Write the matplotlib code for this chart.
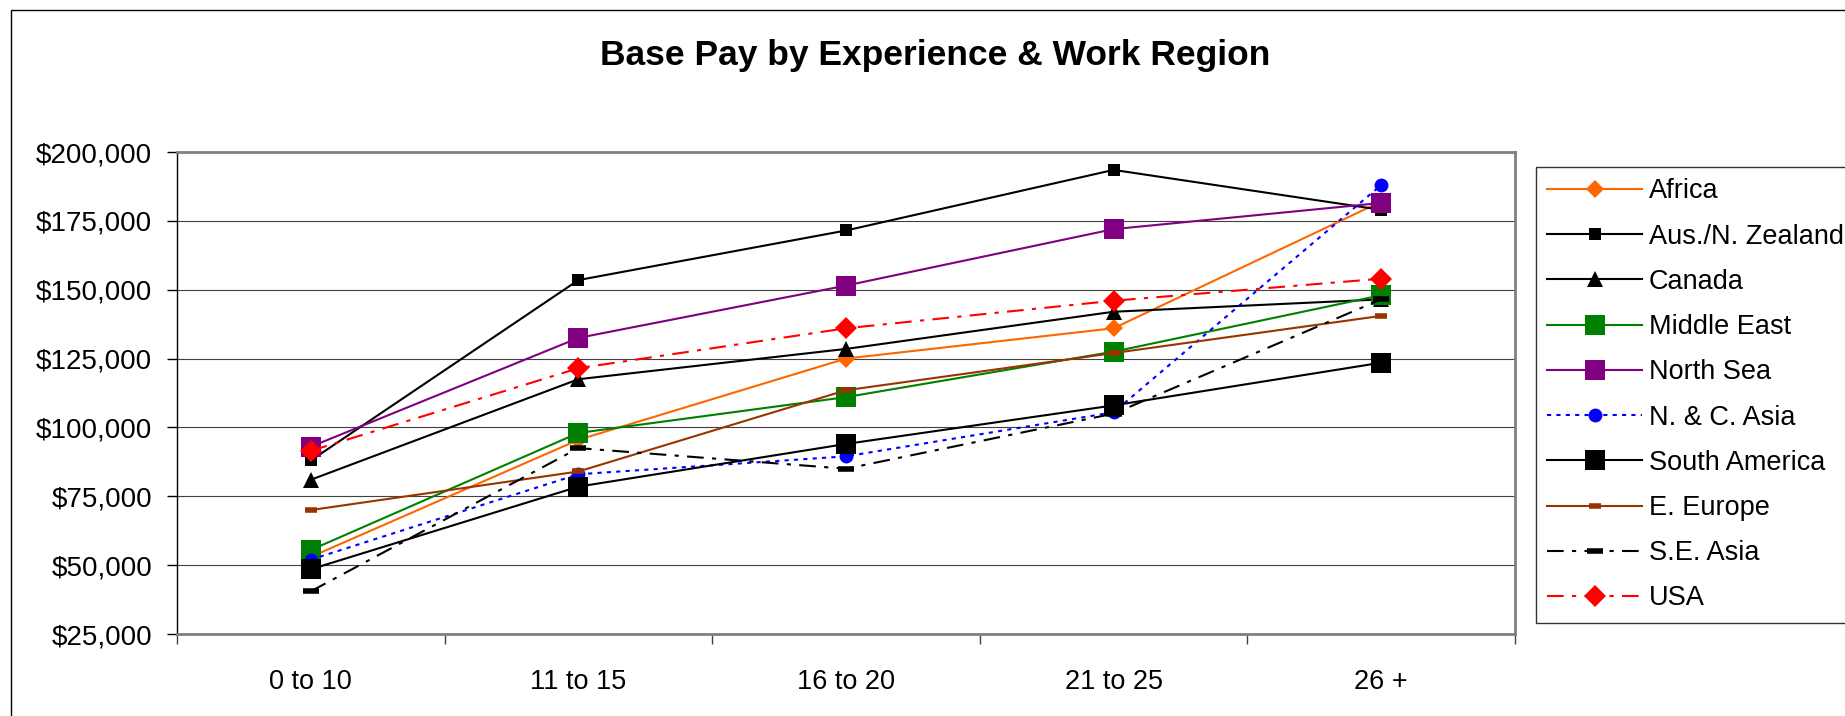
import matplotlib
matplotlib.use('Agg')
import matplotlib.pyplot as plt
from matplotlib.patches import Rectangle
from matplotlib.ticker import FuncFormatter, FixedLocator

plt.rcParams['font.family'] = ['Liberation Sans', 'DejaVu Sans']

# dados
categorias = ['0 to 10', '11 to 15', '16 to 20', '21 to 25', '26 +']
regioes = ['Africa', 'Aus./N. Zealand', 'Canada', 'Middle East', 'North Sea',
           'N. & C. Asia', 'South America', 'E. Europe', 'S.E. Asia', 'USA']

africa = [53000, 95500, 125000, 136000, 182000]
aus_nz = [88000, 153500, 171500, 193500, 179000]
canada = [81000, 117500, 128500, 142000, 146500]
middle_east = [55500, 98000, 111000, 127500, 148000]
north_sea = [93000, 132500, 151500, 172000, 181500]
nc_asia = [52000, 83000, 89500, 105500, 188000]
south_america = [48500, 78500, 94000, 108000, 123500]
e_europe = [70000, 84000, 113500, 127000, 140500]
se_asia = [40500, 92500, 85000, 105000, 146500]
usa = [91500, 121500, 136000, 146000, 154000]

series = [africa, aus_nz, canada, middle_east, north_sea,
          nc_asia, south_america, e_europe, se_asia, usa]

# estilos: cor, linha, marcador, tamanho
estilos = [
    ('#FF6600', '-', 'D', 9),
    ('black', '-', 's', 9),
    ('black', '-', '^', 11),
    ('#008000', '-', 's', 15),
    ('#800080', '-', 's', 15),
    ('#0000FF', (0, (2, 2.5)), 'o', 10),
    ('black', '-', 's', 15),
    ('#993300', '-', '_', 8),
    ('black', (0, (8, 4, 2, 4)), '_', 12),
    ('#FF0000', (0, (8, 4, 2, 4)), 'D', 11),
]

fig = plt.figure(figsize=(18.45, 7.16), dpi=100)
ax = fig.add_axes([177 / 1845, 82 / 716, 1338 / 1845, 482 / 716])

x = list(range(len(categorias)))
for i, (nome, valores, (cor, ls, mk, ms)) in enumerate(zip(regioes, series, estilos)):
    mew = 4 if mk == '_' else 0
    ax.plot(x, valores, color=cor, linestyle=ls, linewidth=1.5,
            marker=mk, markersize=ms, markerfacecolor=cor,
            markeredgecolor=cor, markeredgewidth=mew,
            label=nome, zorder=3 + i)

ax.set_xlim(-0.5, 4.5)
ax.set_ylim(25000, 200000)
ax.set_yticks(range(25000, 200001, 25000))
ax.yaxis.set_major_formatter(FuncFormatter(lambda v, p: '${:,.0f}'.format(v)))
ax.yaxis.grid(True, color='#404040', linewidth=0.8)
ax.set_axisbelow(True)

# ticks nas divisas, rotulos no centro
ax.xaxis.set_major_locator(FixedLocator([-0.5, 0.5, 1.5, 2.5, 3.5, 4.5]))
ax.xaxis.set_major_formatter(FuncFormatter(lambda v, p: ''))
ax.xaxis.set_minor_locator(FixedLocator(x))
ax.set_xticks(x, categorias, minor=True)
ax.tick_params(axis='x', which='minor', length=0, pad=25, labelsize=19.5)
ax.tick_params(axis='x', which='major', length=7, width=1, color='#404040')
ax.tick_params(axis='y', length=7, width=1, pad=11, labelsize=20)

ax.spines['left'].set_color('black')
ax.spines['left'].set_linewidth(1)
for s in ['top', 'right', 'bottom']:
    ax.spines[s].set_color('#808080')
    ax.spines[s].set_linewidth(2)

fig.text(0.507, 1 - 56 / 716, 'Base Pay by Experience & Work Region',
         ha='center', va='center', fontsize=25.5, fontweight='bold')

leg = fig.legend(loc='upper left', bbox_to_anchor=(1536 / 1845, 1 - 167 / 716),
                 bbox_transform=fig.transFigure, fontsize=19.5, frameon=True,
                 fancybox=False, edgecolor='black', numpoints=1,
                 handlelength=3.5, handletextpad=0.25, labelspacing=0.71,
                 borderpad=0.42, borderaxespad=0)
leg.get_frame().set_linewidth(1)

# borda do grafico
fig.add_artist(Rectangle((11 / 1845, -0.2), 1.2, 1.2 - 10 / 716,
                         transform=fig.transFigure, fill=False,
                         edgecolor='black', linewidth=1))

fig.savefig('out.png', dpi=100)
